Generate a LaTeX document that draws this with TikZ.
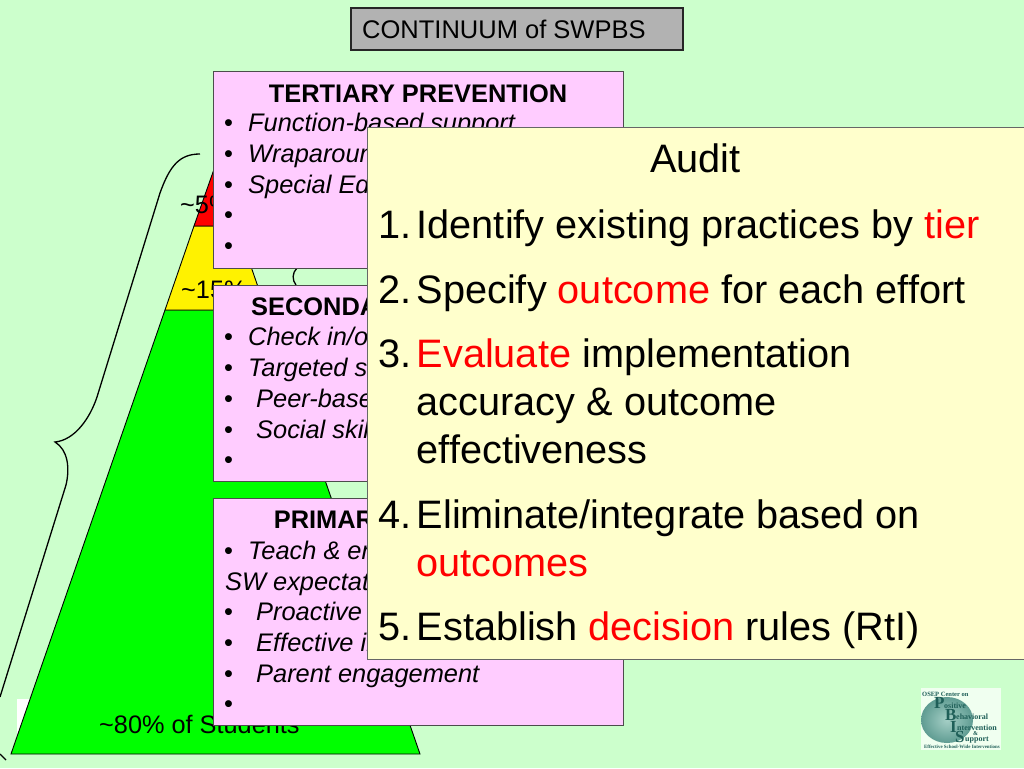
\documentclass[tikz,border=0pt]{standalone}
\usepackage{fontspec}
\setmainfont{Liberation Sans}
\newfontfamily\logofont{Liberation Serif}
\usetikzlibrary{shapes.geometric}
\definecolor{bgc}{HTML}{CCFFCC}
\definecolor{pinkc}{HTML}{FFCCFF}
\definecolor{auditc}{HTML}{FFFFCC}
\definecolor{titlec}{HTML}{B2B2B2}
\definecolor{tealc}{HTML}{5F9C92}
\definecolor{teallight}{HTML}{A5CFC6}
\definecolor{logotext}{HTML}{1F5F58}
\newcommand{\fs}[1]{\fontsize{#1}{#1}\selectfont}
\tikzset{
  x=1pt,y=-1pt,
  panel/.style={draw=black!70,fill=pinkc,line width=1pt},
  band/.style={draw=black,line width=0.9pt},
  brace/.style={draw=black,line width=1.3pt},
  ltxt/.style={anchor=base west,inner sep=0pt,font=\fs{25.4}\itshape},
  bul/.style={anchor=base west,inner sep=0pt,font=\fs{25.4}},
  htxt/.style={anchor=base,inner sep=0pt,font=\fs{25.4}\bfseries},
  pct/.style={anchor=base west,inner sep=0pt,font=\fs{25.3}},
  atxt/.style={anchor=base west,inner sep=0pt,font=\fs{39.7}},
  logol/.style={anchor=base west,inner sep=0pt,text=logotext,font=\logofont\bfseries\fs{8}},
  logob/.style={anchor=base west,inner sep=0pt,text=logotext,font=\logofont\bfseries\fs{17}}
}
\newcommand{\tred}[1]{\textcolor{red}{#1}}
\begin{document}
\begin{tikzpicture}
\useasboundingbox (0,0) rectangle (1024,768);
\fill[bgc] (0,0) rectangle (1024,768);
% white scrap behind pyramid
\fill[white] (17,699) rectangle (40,735);
% pyramid
\coordinate (bl) at (11,754); \coordinate (br) at (420,754);
\coordinate (gl) at (165,310); \coordinate (gr) at (266,310);
\coordinate (yl) at (194,226); \coordinate (yr) at (237,226);
\coordinate (apex) at (215.5,165);
\draw[band,fill=green] (bl) -- (gl) -- (gr) -- (br) -- cycle;
\draw[band,fill=yellow] (gl) -- (yl) -- (yr) -- (gr) -- cycle;
\draw[band,fill=red] (yl) -- (apex) -- (yr) -- cycle;
% braces
\draw[brace] (200,154) .. controls (180,154) and (170,165) .. (160,193)
  -- (97,397) .. controls (90,418) and (75,440) .. (55,442)
  .. controls (68,450) and (70,468) .. (66,485) -- (0,697);
\draw[brace] (0,754) -- (6,760);
\draw[brace] (297,268) .. controls (292,273) and (292,280) .. (296,285);
% percentages
\node[pct] (p5) at (180,213) {\textasciitilde5\%};
\node[pct] (p15) at (181,298) {\textasciitilde15\%};
\node[pct] (p80) at (99,733) {\textasciitilde80\% of Students};
% tertiary
\draw[panel] (213,71) rectangle (623,268);
\node[htxt] (th) at (418,102) {TERTIARY PREVENTION};
\node[bul] (tb1) at (224,131) {•}; \node[ltxt] (t1) at (248,131) {Function-based support};
\node[bul] (tb2) at (224,162) {•}; \node[ltxt] (t2) at (248,162) {Wraparound};
\node[bul] (tb3) at (224,193) {•}; \node[ltxt] (t3) at (248,193) {Special Ed};
\node[bul] (tb4) at (224,223) {•};
\node[bul] (tb5) at (224,254) {•};
% secondary
\draw[panel] (213,285) rectangle (623,481);
\node[htxt] (sh) at (418,315) {SECONDARY PREVENTION};
\node[bul] (sb1) at (224,345) {•}; \node[ltxt] (s1) at (248,345) {Check in/out};
\node[bul] (sb2) at (224,376) {•}; \node[ltxt] (s2) at (248,376) {Targeted social};
\node[bul] (sb3) at (224,407) {•}; \node[ltxt] (s3) at (256,407) {Peer-based};
\node[bul] (sb4) at (224,438) {•}; \node[ltxt] (s4) at (256,438) {Social skills};
\node[bul] (sb5) at (224,468) {•};
% primary
\draw[panel] (213,498) rectangle (623,725);
\node[htxt] (ph) at (418,528) {PRIMARY PREVENTION};
\node[bul] (pb1) at (224,559) {•}; \node[ltxt] (p1) at (248,559) {Teach \& encourage};
\node[ltxt] (p1b) at (225,590) {SW expectations};
\node[bul] (pb2) at (224,620) {•}; \node[ltxt] (p2) at (256,620) {Proactive};
\node[bul] (pb3) at (224,651) {•}; \node[ltxt] (p3) at (256,651) {Effective instruction};
\node[bul] (pb4) at (224,682) {•}; \node[ltxt] (p4) at (256,682) {Parent engagement};
\node[bul] (pb5) at (224,712) {•};
% title
\draw[draw=black!85,fill=titlec,line width=2pt] (351,8) rectangle (683,50);
\node[pct,font=\fs{25.5}] (title) at (362,38) {CONTINUUM of SWPBS};
% audit
\draw[draw=black!60,fill=auditc,line width=1pt] (367,127) rectangle (1024,659);
\node[atxt,anchor=base] (a0) at (695.5,172) {Audit};
\node[atxt] (n1) at (378,238) {1.}; \node[atxt] (a1) at (416.5,238) {Identify existing practices by \tred{tier}};
\node[atxt] (n2) at (378,303) {2.}; \node[atxt] (a2) at (416.5,303) {Specify \tred{outcome} for each effort};
\node[atxt] (n3) at (378,367) {3.}; \node[atxt] (a3) at (416.5,367) {\tred{Evaluate} implementation};
\node[atxt] (a3b) at (416.5,415) {accuracy \& outcome};
\node[atxt] (a3c) at (416.5,463) {effectiveness};
\node[atxt] (n4) at (378,528) {4.}; \node[atxt] (a4) at (416.5,528) {Eliminate/integrate based on};
\node[atxt] (a4b) at (416.5,576) {\tred{outcomes}};
\node[atxt] (n5) at (378,640) {5.}; \node[atxt] (a5) at (416.5,640) {Establish \tred{decision} rules (RtI)};
% logo
\fill[white!70!bgc] (921,688) rectangle (1001,750);
\node[ellipse,inner color=teallight,outer color=tealc,minimum width=52pt,minimum height=46pt,inner sep=0pt] (lo) at (947,720) {};
\node[logol,font=\logofont\bfseries\fs{6.5}] (l0) at (922,696) {OSEP Center on};
\node[logob] (l1) at (934,708) {P}; \node[logol] (l1b) at (944,708) {ositive};
\node[logob] (l2) at (945,720) {B}; \node[logol] (l2b) at (956,719) {ehavioral};
\node[logob] (l3) at (950,732) {I}; \node[logol] (l3b) at (957,730) {ntervention};
\node[logol,font=\logofont\bfseries\fs{6}] (l35) at (973,735) {\&};
\node[logob] (l4) at (955,742) {S}; \node[logol] (l4b) at (965,741) {upport};
\node[logol,font=\logofont\bfseries\fs{4.9}] (l5) at (924,748.5) {Effective School-Wide Interventions};
\end{tikzpicture}
\end{document}
